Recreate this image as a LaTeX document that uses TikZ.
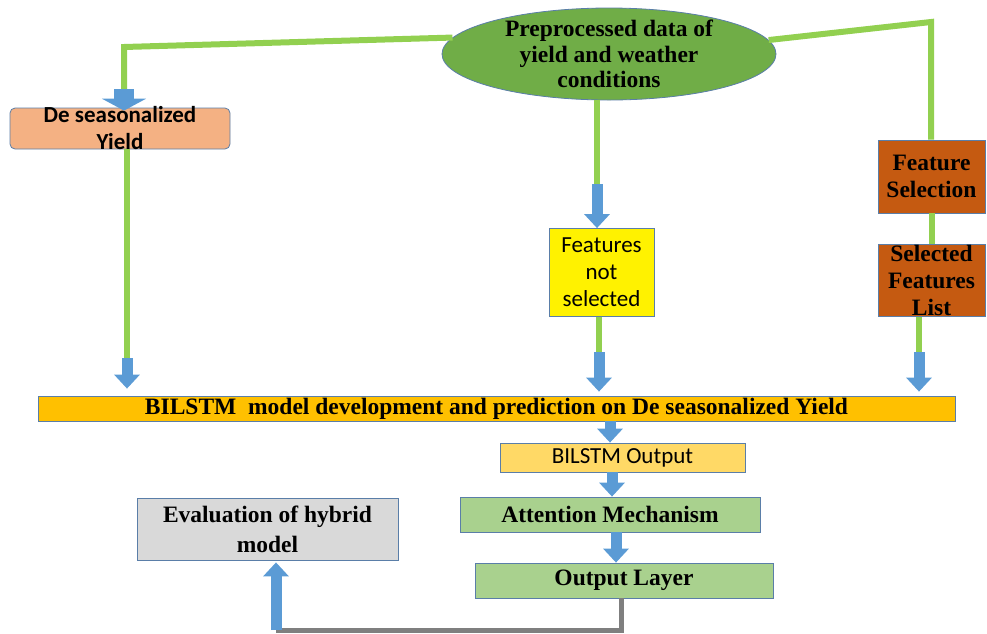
\documentclass[tikz,border=0pt]{standalone}
\usepackage{fontspec}
\setmainfont{Liberation Serif}
\newfontfamily\calibri{Carlito}
\usetikzlibrary{arrows.meta,positioning,calc,shapes.geometric}

\definecolor{egreen}{HTML}{70AD47}
\definecolor{lgreen}{HTML}{92D050}
\definecolor{barrow}{HTML}{5B9BD5}
\definecolor{bdr}{HTML}{5A7EA8}
\definecolor{desyfill}{HTML}{F4B183}
\definecolor{fselfill}{HTML}{C55A11}
\definecolor{barfill}{HTML}{FFC000}
\definecolor{boutfill}{HTML}{FFD966}
\definecolor{attnfill}{HTML}{A9D18E}
\definecolor{evalfill}{HTML}{D9D9D9}
\definecolor{gline}{HTML}{7F7F7F}

\begin{document}
\begin{tikzpicture}[x=1pt,y=-1pt,
  box/.style={draw=bdr,line width=0.8pt,inner xsep=2pt,inner ysep=-10pt,align=center,
    font=\fontsize{23.5}{27}\selectfont\bfseries},
  sansbox/.style={box,font=\calibri\fontsize{23}{27}\selectfont},
  greenline/.style={draw=lgreen,line width=6pt},
  bluearrow/.style={draw=barrow,line width=11pt,-{Triangle[width=25pt,length=14pt]}},
  fatarrow/.style={draw=barrow,line width=20pt,-{Triangle[width=44pt,length=12pt]}},
  greyline/.style={draw=gline,line width=5pt}]
  \useasboundingbox (0,0) rectangle (987,633);

  % nodes
  \node[ellipse,draw=bdr,line width=0.8pt,fill=egreen,minimum width=334,minimum height=92,
    inner xsep=0pt,inner ysep=-14pt,align=center,font=\fontsize{23.5}{25.5}\selectfont\bfseries]
    (prep) at (609,54) {Preprocessed data of\\yield and weather\\conditions};
  \node[box,fill=desyfill,rounded corners=5pt,minimum width=220,minimum height=41,
    font=\calibri\bfseries\fontsize{23}{27}\selectfont] (desy) at (120,128.5) {De seasonalized\\Yield};
  \node[box,fill=fselfill,minimum width=107,minimum height=73] (fsel) at (931.5,176.5) {Feature\\Selection};
  \node[box,fill=fselfill,minimum width=107,minimum height=72] (flist) at (931.5,280.5) {Selected\\Features\\List};
  \node[sansbox,fill=yellow,minimum width=105,minimum height=88] (fnot) at (601.5,272.5) {Features\\not\\selected};
  \node[box,fill=barfill,minimum width=917,minimum height=25] (bilstm) at (496.5,408.5)
    {BILSTM\ \ model development and prediction on De seasonalized Yield};
  \node[sansbox,fill=boutfill,minimum width=245,minimum height=29] (bout) at (622.5,457.5) {BILSTM Output};
  \node[box,fill=attnfill,minimum width=300,minimum height=35] (attn) at (610,514.5) {Attention Mechanism};
  \node[box,fill=attnfill,minimum width=298,minimum height=35] (outl) at (624,580.5) {Output Layer};
  \node[box,fill=evalfill,minimum width=261,minimum height=62,font=\fontsize{23.5}{30}\selectfont\bfseries]
    (evalm) at (267.5,529) {Evaluation of hybrid\\model};

  % left branch
  \coordinate (l1) at (124,47);
  \coordinate (l2) at (124,89);
  \coordinate (l3) at (127,358);
  \draw[greenline] (prep.174) -- (l1) -- (l2);
  \draw[fatarrow] (l2) -- ($(desy.north -| l2)+(0,3)$);
  \draw[greenline] (desy.south -| l3) -- (l3);
  \draw[bluearrow,shorten >=7pt] (l3) -- (bilstm.north -| l3);

  % middle branch
  \coordinate (m1) at (597,184);
  \coordinate (m2) at (599,352);
  \draw[greenline] (prep.south -| m1) -- (m1);
  \draw[bluearrow] (m1) -- (fnot.north -| m1);
  \draw[greenline] (fnot.south -| m2) -- (m2);
  \draw[bluearrow,shorten >=4pt] (m2) -- (bilstm.north -| m2);

  % right branch
  \coordinate (r1) at (931,22);
  \coordinate (r2) at (919,352);
  \draw[greenline] (prep.5) -- (r1) -- (fsel.north -| r1);
  \draw[greenline] (fsel) -- (flist);
  \draw[greenline] (flist.south -| r2) -- (r2);
  \draw[bluearrow,shorten >=4pt] (r2) -- (bilstm.north -| r2);

  % model chain
  \coordinate (d1) at (610,0);
  \coordinate (d2) at (612,0);
  \coordinate (d3) at (616,0);
  \draw[bluearrow] (bilstm.south -| d1) -- (bout.north -| d1);
  \draw[bluearrow] (bout.south -| d2) -- (attn.north -| d2);
  \draw[bluearrow] (attn.south -| d3) -- (outl.north -| d3);

  % feedback to evaluation
  \coordinate (g1) at (621,630);
  \coordinate (g2) at (276,630);
  \draw[greyline] (outl.south -| g1) -- (g1) -- (g2);
  \draw[bluearrow] (g2) -- ($(evalm.south -| g2)+(0,2)$);
\end{tikzpicture}
\end{document}
